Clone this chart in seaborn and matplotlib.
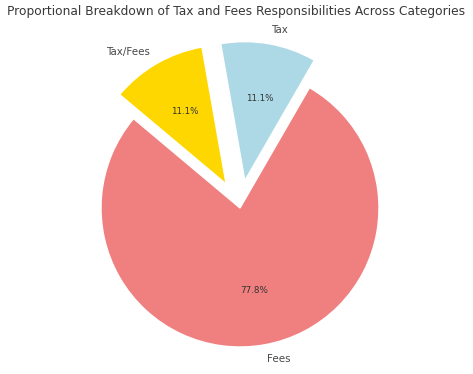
import matplotlib
matplotlib.use("Agg")
import matplotlib.pyplot as plt
import seaborn as sns

# data
categories = ['Fees', 'Tax', 'Tax/Fees']
shares = [7, 1, 1]
explode = [0, 0.2, 0.2]
slice_colors = ['lightcoral', 'lightblue', 'gold']

sns.set_style("white")
plt.rcParams['font.family'] = ['DejaVu Sans']
plt.rcParams['text.color'] = '0.25'

fig = plt.figure(figsize=(4.73, 3.74), dpi=100)
ax = fig.add_axes([0, 0, 1, 1])

wedges, texts, autotexts = ax.pie(shares, labels=categories, explode=explode,
                                  colors=slice_colors, autopct='%1.1f%%',
                                  startangle=140, radius=1,
                                  textprops={'fontsize': 7.4, 'color': '0.28'})
for t in autotexts:
    t.set_fontsize(6.3)
    t.set_color('0.2')

# center of pie sits at ~ (240, 208) px, radius ~139 px
r = 139.0
ax.set_xlim(-240 / r, (473 - 240) / r)
ax.set_ylim(-(374 - 208) / r, 208 / r)
ax.set_aspect('auto')
ax.axis('off')

fig.text(236 / 473, 1 - 12 / 374, 'Proportional Breakdown of Tax and Fees Responsibilities Across Categories',
         ha='center', va='center', fontsize=8.85, color='0.22')

fig.savefig("out.png", dpi=100)
plt.close()
